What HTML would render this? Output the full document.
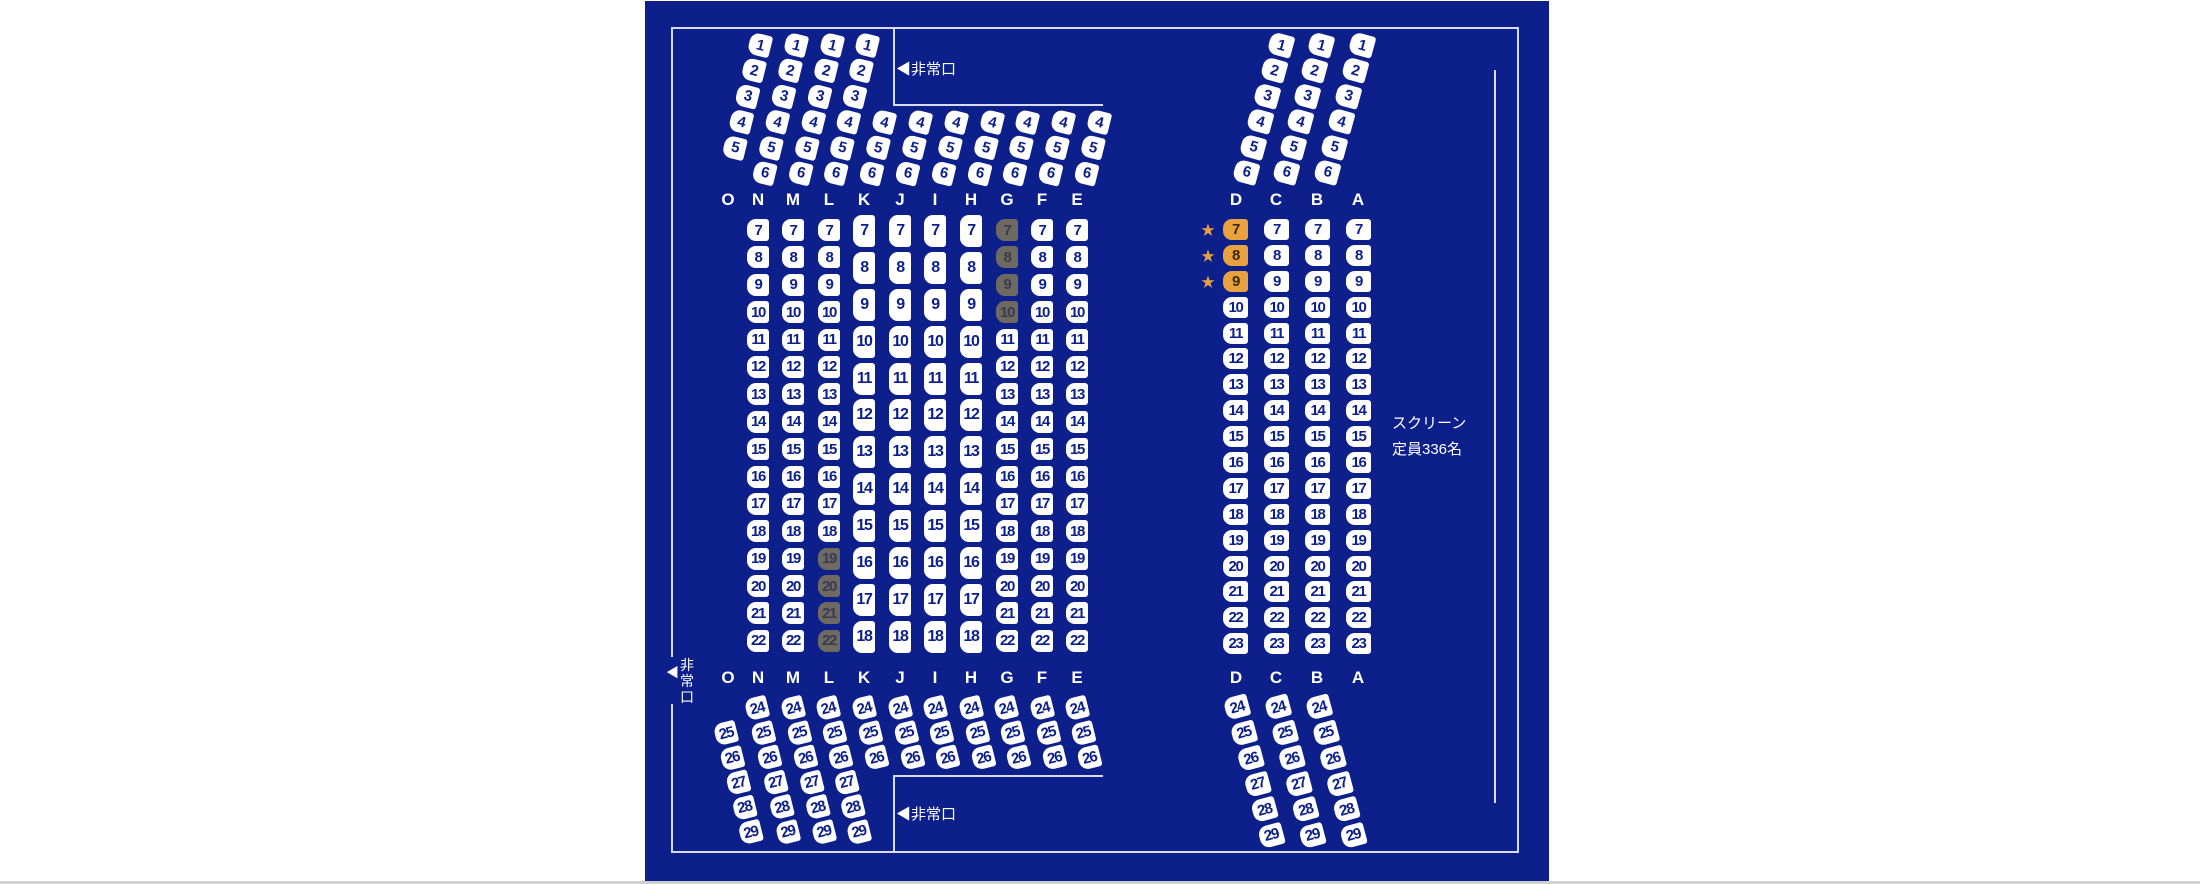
<!DOCTYPE html>
<html><head><meta charset="utf-8">
<style>
*{margin:0;padding:0;box-sizing:border-box}
body{width:2200px;height:884px;background:#fff;position:relative;overflow:hidden;font-family:"Liberation Sans","Noto Sans CJK JP",sans-serif}
#p{position:absolute;left:645px;top:1px;width:904px;height:880px;background:#0c1f8a}
.ln{position:absolute;background:#d8dcf0}
.c{position:absolute;display:flex;flex-direction:column}
.c b{display:flex;align-items:center;justify-content:center;background:#fff;color:#0c1f8a;font-weight:bold;font-size:15px;letter-spacing:-1.3px;border-radius:9px 3px 3px 9px;width:22px;height:22px;line-height:1}
.n{gap:5.4px}
.k{gap:4.9px}.k b{height:32px;font-size:16px}
.r{gap:4.9px}.r b{width:25px;height:21px}
.s{gap:4.4px;transform-origin:11px 11px;transform:rotate(13.8deg)}
.t{gap:4.4px;transform-origin:12px 11px;transform:rotate(15.3deg)}.t b{width:24px}
.u{gap:3.6px;transform-origin:11px 11px;transform:rotate(-14deg)}
.v{gap:4.5px;transform-origin:12px 11px;transform:rotate(-15deg)}.v b{width:24px}
.c b.g{background:#6e6a62;color:#3a3a50}
.c b.o{background:#e9a23e;color:#3a2a10}
.L{position:absolute;color:#fff;font-size:17px;font-weight:bold;width:30px;text-align:center;line-height:20px}
.st{position:absolute;color:#e9a23e;font-size:14px;line-height:14px}
.tx{position:absolute;color:#fff;font-size:15px;line-height:18px;white-space:nowrap}
</style></head><body>
<div id="p"></div>
<div class="ln" style="left:671px;top:27px;width:848px;height:2px"></div>
<div class="ln" style="left:671px;top:27px;width:2px;height:630px"></div>
<div class="ln" style="left:671px;top:704px;width:2px;height:149px"></div>
<div class="ln" style="left:671px;top:851px;width:848px;height:2px"></div>
<div class="ln" style="left:1517px;top:27px;width:2px;height:826px"></div>
<div class="ln" style="left:893px;top:27px;width:2px;height:78px"></div>
<div class="ln" style="left:893px;top:104px;width:210px;height:2px"></div>
<div class="ln" style="left:893px;top:775px;width:2px;height:78px"></div>
<div class="ln" style="left:893px;top:775px;width:210px;height:2px"></div>
<div class="ln" style="left:1494px;top:70px;width:2px;height:733px"></div>
<div style="position:absolute;left:0;top:881px;width:2200px;height:3px;background:#d0d0d0"></div>

<div class="tx" style="left:896px;top:61px">◀非常口</div>
<div class="tx" style="left:896px;top:806px">◀非常口</div>
<div class="tx" style="left:666px;top:664px;font-size:13px">◀</div>
<div class="tx" style="left:680px;top:657px;width:16px;white-space:normal;font-size:14px;line-height:16px">非常口</div>
<div class="tx" style="left:1392px;top:415px">スクリーン</div>
<div class="tx" style="left:1392px;top:441px">定員336名</div>

<div class="L" style="left:713px;top:190px">O</div>
<div class="L" style="left:743px;top:190px">N</div>
<div class="L" style="left:778px;top:190px">M</div>
<div class="L" style="left:814px;top:190px">L</div>
<div class="L" style="left:849px;top:190px">K</div>
<div class="L" style="left:885px;top:190px">J</div>
<div class="L" style="left:920px;top:190px">I</div>
<div class="L" style="left:956px;top:190px">H</div>
<div class="L" style="left:992px;top:190px">G</div>
<div class="L" style="left:1027px;top:190px">F</div>
<div class="L" style="left:1062px;top:190px">E</div>
<div class="L" style="left:1221px;top:190px">D</div>
<div class="L" style="left:1261px;top:190px">C</div>
<div class="L" style="left:1302px;top:190px">B</div>
<div class="L" style="left:1343px;top:190px">A</div>
<div class="L" style="left:713px;top:668px">O</div>
<div class="L" style="left:743px;top:668px">N</div>
<div class="L" style="left:778px;top:668px">M</div>
<div class="L" style="left:814px;top:668px">L</div>
<div class="L" style="left:849px;top:668px">K</div>
<div class="L" style="left:885px;top:668px">J</div>
<div class="L" style="left:920px;top:668px">I</div>
<div class="L" style="left:956px;top:668px">H</div>
<div class="L" style="left:992px;top:668px">G</div>
<div class="L" style="left:1027px;top:668px">F</div>
<div class="L" style="left:1062px;top:668px">E</div>
<div class="L" style="left:1221px;top:668px">D</div>
<div class="L" style="left:1261px;top:668px">C</div>
<div class="L" style="left:1302px;top:668px">B</div>
<div class="L" style="left:1343px;top:668px">A</div>

<div class="st" style="left:1201px;top:223px">★</div>
<div class="st" style="left:1201px;top:249px">★</div>
<div class="st" style="left:1201px;top:275px">★</div>

<div class="c n" style="left:747px;top:219px"><b>7</b><b>8</b><b>9</b><b>10</b><b>11</b><b>12</b><b>13</b><b>14</b><b>15</b><b>16</b><b>17</b><b>18</b><b>19</b><b>20</b><b>21</b><b>22</b></div>
<div class="c n" style="left:782px;top:219px"><b>7</b><b>8</b><b>9</b><b>10</b><b>11</b><b>12</b><b>13</b><b>14</b><b>15</b><b>16</b><b>17</b><b>18</b><b>19</b><b>20</b><b>21</b><b>22</b></div>
<div class="c n" style="left:818px;top:219px"><b>7</b><b>8</b><b>9</b><b>10</b><b>11</b><b>12</b><b>13</b><b>14</b><b>15</b><b>16</b><b>17</b><b>18</b><b class="g">19</b><b class="g">20</b><b class="g">21</b><b class="g">22</b></div>
<div class="c k" style="left:853px;top:215px"><b>7</b><b>8</b><b>9</b><b>10</b><b>11</b><b>12</b><b>13</b><b>14</b><b>15</b><b>16</b><b>17</b><b>18</b></div>
<div class="c k" style="left:889px;top:215px"><b>7</b><b>8</b><b>9</b><b>10</b><b>11</b><b>12</b><b>13</b><b>14</b><b>15</b><b>16</b><b>17</b><b>18</b></div>
<div class="c k" style="left:924px;top:215px"><b>7</b><b>8</b><b>9</b><b>10</b><b>11</b><b>12</b><b>13</b><b>14</b><b>15</b><b>16</b><b>17</b><b>18</b></div>
<div class="c k" style="left:960px;top:215px"><b>7</b><b>8</b><b>9</b><b>10</b><b>11</b><b>12</b><b>13</b><b>14</b><b>15</b><b>16</b><b>17</b><b>18</b></div>
<div class="c n" style="left:996px;top:219px"><b class="g">7</b><b class="g">8</b><b class="g">9</b><b class="g">10</b><b>11</b><b>12</b><b>13</b><b>14</b><b>15</b><b>16</b><b>17</b><b>18</b><b>19</b><b>20</b><b>21</b><b>22</b></div>
<div class="c n" style="left:1031px;top:219px"><b>7</b><b>8</b><b>9</b><b>10</b><b>11</b><b>12</b><b>13</b><b>14</b><b>15</b><b>16</b><b>17</b><b>18</b><b>19</b><b>20</b><b>21</b><b>22</b></div>
<div class="c n" style="left:1066px;top:219px"><b>7</b><b>8</b><b>9</b><b>10</b><b>11</b><b>12</b><b>13</b><b>14</b><b>15</b><b>16</b><b>17</b><b>18</b><b>19</b><b>20</b><b>21</b><b>22</b></div>
<div class="c r" style="left:1223px;top:219px"><b class="o">7</b><b class="o">8</b><b class="o">9</b><b>10</b><b>11</b><b>12</b><b>13</b><b>14</b><b>15</b><b>16</b><b>17</b><b>18</b><b>19</b><b>20</b><b>21</b><b>22</b><b>23</b></div>
<div class="c r" style="left:1264px;top:219px"><b>7</b><b>8</b><b>9</b><b>10</b><b>11</b><b>12</b><b>13</b><b>14</b><b>15</b><b>16</b><b>17</b><b>18</b><b>19</b><b>20</b><b>21</b><b>22</b><b>23</b></div>
<div class="c r" style="left:1305px;top:219px"><b>7</b><b>8</b><b>9</b><b>10</b><b>11</b><b>12</b><b>13</b><b>14</b><b>15</b><b>16</b><b>17</b><b>18</b><b>19</b><b>20</b><b>21</b><b>22</b><b>23</b></div>
<div class="c r" style="left:1346px;top:219px"><b>7</b><b>8</b><b>9</b><b>10</b><b>11</b><b>12</b><b>13</b><b>14</b><b>15</b><b>16</b><b>17</b><b>18</b><b>19</b><b>20</b><b>21</b><b>22</b><b>23</b></div>

<div class="c s" style="left:749px;top:34px"><b>1</b><b>2</b><b>3</b><b>4</b><b>5</b></div>
<div class="c s" style="left:785px;top:34px"><b>1</b><b>2</b><b>3</b><b>4</b><b>5</b><b>6</b></div>
<div class="c s" style="left:821px;top:34px"><b>1</b><b>2</b><b>3</b><b>4</b><b>5</b><b>6</b></div>
<div class="c s" style="left:856px;top:34px"><b>1</b><b>2</b><b>3</b><b>4</b><b>5</b><b>6</b></div>
<div class="c s" style="left:873px;top:111px"><b>4</b><b>5</b><b>6</b></div>
<div class="c s" style="left:909px;top:111px"><b>4</b><b>5</b><b>6</b></div>
<div class="c s" style="left:945px;top:111px"><b>4</b><b>5</b><b>6</b></div>
<div class="c s" style="left:981px;top:111px"><b>4</b><b>5</b><b>6</b></div>
<div class="c s" style="left:1016px;top:111px"><b>4</b><b>5</b><b>6</b></div>
<div class="c s" style="left:1052px;top:111px"><b>4</b><b>5</b><b>6</b></div>
<div class="c s" style="left:1088px;top:111px"><b>4</b><b>5</b><b>6</b></div>
<div class="c t" style="left:1269px;top:34px"><b>1</b><b>2</b><b>3</b><b>4</b><b>5</b><b>6</b></div>
<div class="c t" style="left:1309px;top:34px"><b>1</b><b>2</b><b>3</b><b>4</b><b>5</b><b>6</b></div>
<div class="c t" style="left:1350px;top:34px"><b>1</b><b>2</b><b>3</b><b>4</b><b>5</b><b>6</b></div>

<div class="c u" style="left:715px;top:722px"><b>25</b><b>26</b><b>27</b><b>28</b><b>29</b></div>
<div class="c u" style="left:746px;top:697px"><b>24</b><b>25</b><b>26</b><b>27</b><b>28</b><b>29</b></div>
<div class="c u" style="left:782px;top:697px"><b>24</b><b>25</b><b>26</b><b>27</b><b>28</b><b>29</b></div>
<div class="c u" style="left:817px;top:697px"><b>24</b><b>25</b><b>26</b><b>27</b><b>28</b><b>29</b></div>
<div class="c u" style="left:853px;top:697px"><b>24</b><b>25</b><b>26</b></div>
<div class="c u" style="left:889px;top:697px"><b>24</b><b>25</b><b>26</b></div>
<div class="c u" style="left:924px;top:697px"><b>24</b><b>25</b><b>26</b></div>
<div class="c u" style="left:960px;top:697px"><b>24</b><b>25</b><b>26</b></div>
<div class="c u" style="left:995px;top:697px"><b>24</b><b>25</b><b>26</b></div>
<div class="c u" style="left:1031px;top:697px"><b>24</b><b>25</b><b>26</b></div>
<div class="c u" style="left:1066px;top:697px"><b>24</b><b>25</b><b>26</b></div>
<div class="c v" style="left:1225px;top:696px"><b>24</b><b>25</b><b>26</b><b>27</b><b>28</b><b>29</b></div>
<div class="c v" style="left:1266px;top:696px"><b>24</b><b>25</b><b>26</b><b>27</b><b>28</b><b>29</b></div>
<div class="c v" style="left:1307px;top:696px"><b>24</b><b>25</b><b>26</b><b>27</b><b>28</b><b>29</b></div>
</body></html>
